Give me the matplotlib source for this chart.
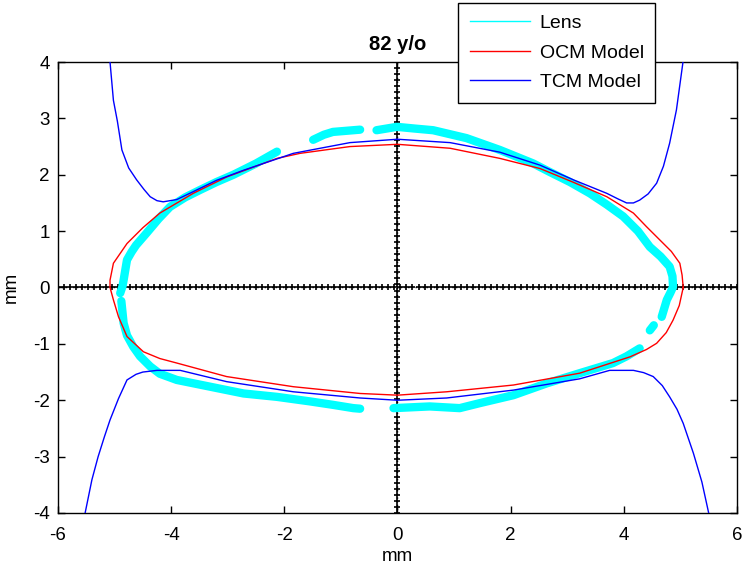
import matplotlib
matplotlib.use("Agg")
import matplotlib.pyplot as plt
from matplotlib.lines import Line2D
import numpy as np

plt.rcParams['font.family'] = ['Liberation Sans', 'DejaVu Sans']

# ---------------- data ----------------
title = "82 y/o"
xlabel = "mm"
ylabel = "mm"
legend_labels = ["Lens", "OCM Model", "TCM Model"]
xticks = [-6, -4, -2, 0, 2, 4, 6]
yticks = [-4, -3, -2, -1, 0, 1, 2, 3, 4]

# Lens contour (measured), several separate segments
lens_seg1_x = [-0.66, -0.78, -1.15, -1.55, -2.13, -2.72, -3.31, -3.90, -4.20, -4.37, -4.55, -4.67, -4.78, -4.84, -4.88]
lens_seg1_y = [-2.15, -2.14, -2.08, -2.02, -1.94, -1.88, -1.76, -1.64, -1.53, -1.40, -1.22, -1.05, -0.85, -0.63, -0.24]
lens_seg2_x = [-4.90, -4.86, -4.84, -4.78, -4.70, -4.62, -4.43, -4.22, -4.02, -3.75, -3.49, -3.20, -2.90, -2.50, -2.13]
lens_seg2_y = [-0.10, 0.02, 0.13, 0.49, 0.63, 0.75, 0.97, 1.22, 1.43, 1.60, 1.73, 1.87, 2.00, 2.20, 2.41]
lens_seg3_x = [-1.49, -1.30, -1.14, -0.90, -0.66]
lens_seg3_y = [2.62, 2.71, 2.76, 2.78, 2.80]
lens_seg4_x = [-0.37, -0.01, 0.30, 0.63, 1.22, 1.81, 2.40, 2.69, 3.05, 3.40, 3.70, 3.99, 4.25, 4.46, 4.65, 4.81, 4.86, 4.87, 4.82, 4.76, 4.67]
lens_seg4_y = [2.79, 2.85, 2.82, 2.79, 2.65, 2.44, 2.20, 2.05, 1.87, 1.67, 1.47, 1.26, 1.00, 0.72, 0.55, 0.37, 0.20, 0.01, -0.10, -0.22, -0.52]
lens_seg5_x = [4.53, 4.46]
lens_seg5_y = [-0.67, -0.76]
lens_seg6_x = [4.28, 4.05, 3.81, 3.22, 2.64, 2.05, 1.46, 1.10, 0.57, -0.07]
lens_seg6_y = [-1.08, -1.22, -1.34, -1.52, -1.70, -1.91, -2.05, -2.14, -2.11, -2.14]

# OCM model (closed curve)
ocm_x = [5.05, 5.03, 4.99, 4.84, 4.64, 4.40, 4.17, 3.70, 3.10, 2.52, 1.81, 0.93, 0.00, -0.84, -1.72, -2.13,
         -3.02, -3.61, -4.20, -4.50, -4.78, -5.02, -5.08, -5.08, -5.02, -4.93, -4.78, -4.49, -4.20,
         -3.90, -3.02, -1.84, -0.66, 0.00, 0.87, 2.05, 3.22, 4.11, 4.40, 4.58, 4.75, 4.87, 4.98, 5.05]
ocm_y = [0.00, 0.22, 0.43, 0.64, 0.84, 1.08, 1.32, 1.61, 1.87, 2.11, 2.29, 2.47, 2.54, 2.50, 2.38, 2.29,
         1.96, 1.67, 1.32, 1.06, 0.78, 0.43, 0.13, 0.00, -0.22, -0.52, -0.87, -1.14, -1.26,
         -1.34, -1.58, -1.76, -1.88, -1.91, -1.85, -1.73, -1.52, -1.23, -1.10, -0.99, -0.80, -0.58, -0.32, 0.00]

# TCM model: upper and lower curves
tcm_up_x = [-5.08, -5.02, -4.95, -4.87, -4.75, -4.61, -4.48, -4.37, -4.25, -4.14, -3.90, -3.61, -3.20, -2.72, -1.84, -0.84,
            0.00, 0.93, 1.81, 2.52, 3.11, 3.70, 3.90, 4.05, 4.17, 4.28, 4.43, 4.58, 4.70, 4.81, 4.93, 5.05]
tcm_up_y = [4.00, 3.32, 2.95, 2.44, 2.12, 1.91, 1.74, 1.61, 1.54, 1.52, 1.56, 1.70, 1.90, 2.08, 2.38, 2.57,
            2.63, 2.57, 2.40, 2.17, 1.91, 1.67, 1.57, 1.50, 1.50, 1.55, 1.66, 1.85, 2.15, 2.56, 3.15, 4.03]
tcm_lo_x = [-5.52, -5.40, -5.29, -5.18, -5.08, -4.93, -4.78, -4.62, -4.50, -4.25, -3.84, -3.02, -1.84, -0.66, 0.00,
            0.87, 2.05, 3.22, 3.75, 4.17, 4.35, 4.52, 4.68, 4.81, 4.94, 5.05, 5.23, 5.38, 5.50]
tcm_lo_y = [-4.00, -3.41, -3.00, -2.65, -2.35, -1.97, -1.64, -1.54, -1.50, -1.47, -1.47, -1.67, -1.85, -1.96, -2.00,
            -1.96, -1.82, -1.62, -1.47, -1.47, -1.51, -1.58, -1.74, -1.94, -2.16, -2.41, -2.94, -3.45, -4.00]

# ---------------- figure ----------------
fig = plt.figure(figsize=(7.46, 5.71), dpi=100)
ax = fig.add_axes([0.0777, 0.1016, 0.9102, 0.7898])

# crosshair (dotted black with plus markers)
hx = np.linspace(-6, 6, 114)
ax.plot(hx, np.zeros_like(hx), color='black', linestyle=':', marker='+',
        markersize=4.5, markeredgewidth=1.2, linewidth=1.0, zorder=1)
vy = np.linspace(-4, 4, 76)
ax.plot(np.zeros_like(vy), vy, color='black', linestyle=':', marker='+',
        markersize=4.5, markeredgewidth=1.2, linewidth=1.0, zorder=1)

lens_segments = [(lens_seg1_x, lens_seg1_y), (lens_seg2_x, lens_seg2_y),
                 (lens_seg3_x, lens_seg3_y), (lens_seg4_x, lens_seg4_y),
                 (lens_seg5_x, lens_seg5_y), (lens_seg6_x, lens_seg6_y)]
for sx, sy in lens_segments:
    ax.plot(sx, sy, color='#00ffff', linewidth=6.0, solid_capstyle='round',
            solid_joinstyle='round', zorder=2)

ax.plot(ocm_x, ocm_y, color='red', linewidth=1.0, zorder=3)
ax.plot(tcm_up_x, tcm_up_y, color='blue', linewidth=1.0, zorder=4)
ax.plot(tcm_lo_x, tcm_lo_y, color='blue', linewidth=1.0, zorder=4)

ax.set_xlim(-6, 6)
ax.set_ylim(-4, 4)
ax.set_xticks(xticks)
ax.set_yticks(yticks)
ax.set_xticklabels([str(t) for t in xticks])
ax.set_yticklabels([str(t) for t in yticks])
ax.tick_params(direction='in', length=5, width=1, top=True, right=True,
               labelsize=13.5, pad=6)
ax.tick_params(axis='x', pad=10)
for s in ax.spines.values():
    s.set_linewidth(1.0)

ax.set_title(title, fontsize=14.5, fontweight='bold', pad=9)
ax.set_xlabel(xlabel, fontsize=13.5, labelpad=3)
ax.set_ylabel(ylabel, fontsize=13.5, labelpad=9)

handles = [Line2D([], [], color='#00ffff', linewidth=1.0),
           Line2D([], [], color='red', linewidth=1.0),
           Line2D([], [], color='blue', linewidth=1.0)]
leg = fig.legend(handles, legend_labels, loc='upper left',
                 bbox_to_anchor=(458 / 746, 1 - 3 / 571), fontsize=14,
                 frameon=True, fancybox=False, edgecolor='black', framealpha=1,
                 handlelength=3.1, handletextpad=0.5, labelspacing=0.6,
                 borderpad=0.6, borderaxespad=0)
leg.get_frame().set_linewidth(1.0)

fig.savefig("out.png", dpi=100)
